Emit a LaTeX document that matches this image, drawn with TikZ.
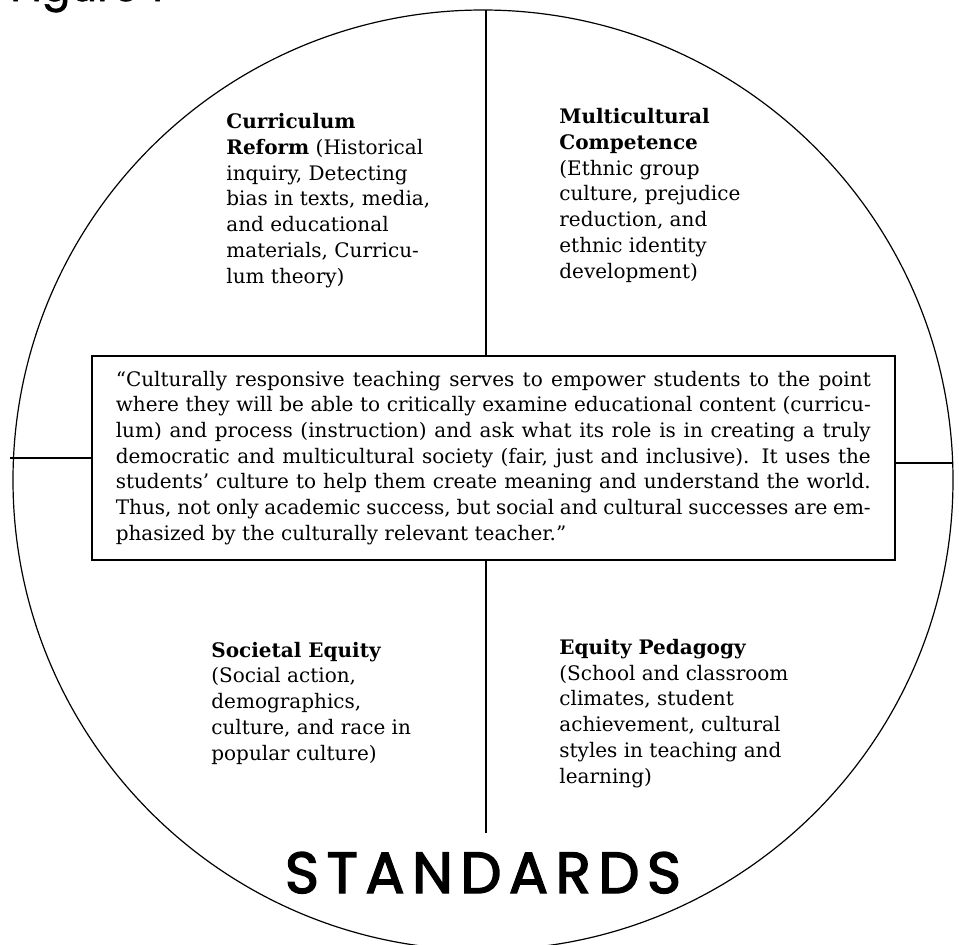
\documentclass[tikz,border=0pt]{standalone}
\usepackage{fontspec}
\setmainfont{DejaVu Serif}
\newfontfamily\markfont{Poppins}
\usepackage{tikz}
\usetikzlibrary{positioning}

\begin{document}
\begin{tikzpicture}[x=0.5pt, y=-0.5pt,
    quad/.style={anchor=base west, align=left, inner sep=0pt,
      font=\fontsize{10}{12.85}\selectfont},
    quotebox/.style={draw, line width=0.8pt, anchor=north west, align=justify,
      text width=377.5pt, inner xsep=12pt, minimum height=102pt,
      font=\fontsize{10}{12.85}\selectfont},
    rule/.style={line width=0.6pt}
  ]
  \useasboundingbox (0,0) rectangle (959,944);
  % outer circle
  \node[circle, draw, rule, minimum size=470pt, inner sep=0pt] (ring) at (483,480) {};
  \node[anchor=base west, inner sep=0pt, font=\markfont\fontsize{21}{24}\selectfont] (fig) at (10,1)
    {\addfontfeatures{FakeBold=1.5}Figure 1};
  % central quote
  \node[quotebox] (quote) at (91,355) {\hyphenpenalty=10000
    “Culturally responsive teaching serves to empower students to the point\linebreak
    where they will be able to critically examine educational content (curricu-\linebreak
    lum) and process (instruction) and ask what its role is in creating a truly\linebreak
    democratic and multicultural society (fair, just and inclusive). It uses the\linebreak
    students’ culture to help them create meaning and understand the world.\linebreak
    Thus, not only academic success, but social and cultural successes are em-\linebreak
    phasized by the culturally relevant teacher.”};
  % quadrants (base = last line)
  \node[quad] (reform) at (226,283) {\textbf{Curriculum}\\ \textbf{Reform} (Historical\\ inquiry, Detecting\\
    bias in texts, media,\\ and educational\\ materials, Curricu-\\ lum theory)};
  \node[quad] (compet) at (559,278) {\textbf{Multicultural}\\ \textbf{Competence}\\ (Ethnic group\\
    culture, prejudice\\ reduction, and\\ ethnic identity\\ development)};
  \node[quad] (societal) at (211,760) {\textbf{Societal Equity}\\ (Social action,\\ demographics,\\
    culture, and race in\\ popular culture)};
  \node[quad] (pedagogy) at (559,783) {\textbf{Equity Pedagogy}\\ (School and classroom\\ climates, student\\
    achievement, cultural\\ styles in teaching and\\ learning)};
  \node[anchor=base, inner sep=0pt, font=\markfont\fontsize{29}{30}\selectfont] (standards) at (483,893)
    {\addfontfeatures{LetterSpace=13, FakeBold=2.5}STANDARDS};
  % dividers
  \coordinate (top) at (486,10);
  \coordinate (low) at (486,833);
  \coordinate (lft) at (10,458);
  \coordinate (rgt) at (953,463);
  \draw[rule] (top) -- (top |- quote.north);
  \draw[rule] (low |- quote.south) -- (low);
  \draw[rule] (lft) -- (lft -| quote.west);
  \draw[rule] (rgt -| quote.east) -- (rgt);
\end{tikzpicture}
\end{document}
